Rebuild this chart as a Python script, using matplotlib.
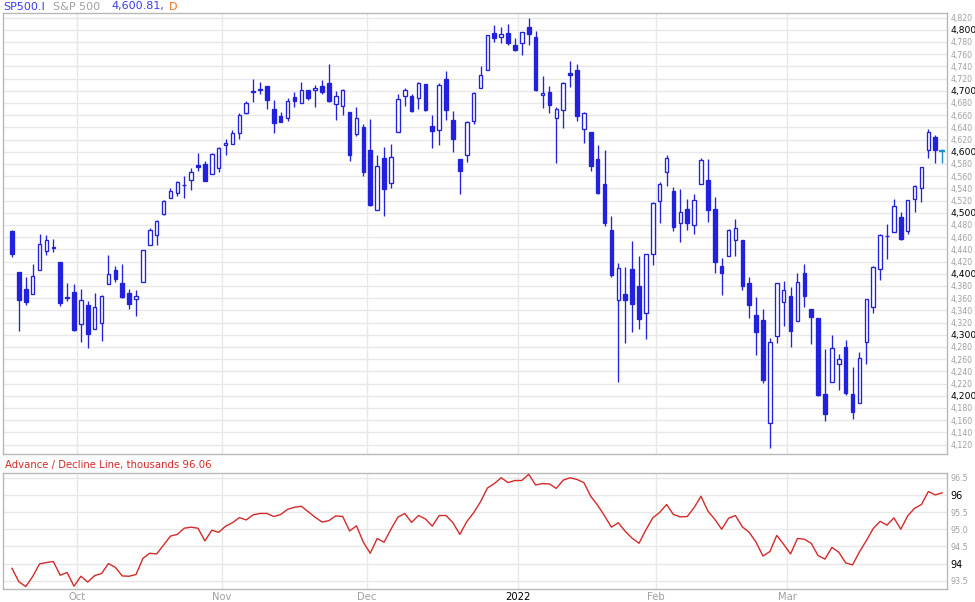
import numpy as np
import pandas as pd
import matplotlib
matplotlib.use("Agg")
import matplotlib.pyplot as plt

# ---------------- data ----------------
holidays = ["2021-11-25", "2021-12-24", "2022-01-17", "2022-02-21"]
dates = pd.bdate_range("2021-09-17", "2022-03-31")
dates = dates[~dates.isin(pd.to_datetime(holidays))]

opens = [4469.74, 4402.95, 4374.45, 4367.43, 4406.75, 4438.04, 4442.12, 4419.54, 4362.41, 4370.67,
         4317.16, 4348.84, 4309.87, 4319.57, 4383.73, 4406.51, 4385.44, 4368.31, 4358.01, 4386.75,
         4447.69, 4463.72, 4497.34, 4524.42, 4532.24, 4546.12, 4553.69, 4578.69, 4580.22, 4562.84,
         4572.87, 4610.62, 4613.34, 4630.65, 4662.93, 4699.26, 4701.48, 4707.25, 4670.26, 4659.39,
         4655.24, 4689.30, 4679.42, 4701.50, 4700.72, 4708.44, 4712.00, 4678.48, 4675.78, 4664.63,
         4628.75, 4640.25, 4602.82, 4504.73, 4589.49, 4548.37, 4631.97, 4690.86, 4691.00, 4687.64,
         4710.30, 4642.99, 4636.46, 4719.13, 4652.50, 4587.90, 4594.96, 4650.36, 4703.96, 4733.99,
         4795.49, 4788.64, 4794.23, 4775.21, 4778.14, 4804.51, 4787.99, 4693.39, 4697.66, 4655.34,
         4669.14, 4728.59, 4733.56, 4637.99, 4632.24, 4588.03, 4547.35, 4471.38, 4356.32, 4366.64,
         4408.43, 4380.58, 4336.19, 4431.79, 4519.57, 4566.39, 4535.41, 4482.79, 4505.75, 4480.02,
         4547.00, 4553.24, 4506.27, 4412.61, 4429.28, 4455.75, 4456.06, 4384.57, 4332.74, 4324.93,
         4155.77, 4298.38, 4354.17, 4363.14, 4322.56, 4401.31, 4342.12, 4327.01, 4202.66, 4223.10,
         4252.55, 4279.50, 4202.75, 4188.82, 4288.14, 4345.11, 4407.34, 4462.40, 4469.10, 4493.10,
         4469.98, 4522.66, 4541.09, 4602.86, 4624.00, 4599.02]
highs = [4471.52, 4402.95, 4394.87, 4416.75, 4465.40, 4463.12, 4457.30, 4419.54, 4385.57, 4382.55,
         4375.19, 4355.51, 4369.23, 4365.57, 4429.97, 4412.02, 4415.88, 4374.89, 4372.87, 4439.73,
         4475.82, 4488.75, 4520.40, 4540.87, 4551.44, 4559.67, 4572.62, 4598.53, 4584.57, 4597.55,
         4608.08, 4620.34, 4635.15, 4663.46, 4683.00, 4718.50, 4714.92, 4708.53, 4684.85, 4664.55,
         4688.47, 4697.42, 4714.95, 4701.50, 4708.80, 4717.75, 4743.83, 4699.39, 4702.87, 4664.63,
         4672.95, 4646.02, 4652.94, 4595.46, 4608.03, 4612.60, 4694.04, 4705.06, 4695.26, 4713.57,
         4710.30, 4660.47, 4712.60, 4731.99, 4666.70, 4587.90, 4651.14, 4697.67, 4740.74, 4791.49,
         4807.02, 4804.06, 4808.93, 4786.83, 4796.64, 4818.62, 4797.70, 4725.01, 4707.95, 4673.02,
         4714.13, 4748.83, 4744.13, 4665.13, 4632.24, 4611.55, 4602.11, 4494.52, 4417.35, 4411.01,
         4453.23, 4428.74, 4432.72, 4516.89, 4550.49, 4595.31, 4542.88, 4539.66, 4521.86, 4531.32,
         4590.03, 4588.92, 4526.33, 4426.22, 4472.77, 4489.55, 4456.06, 4394.60, 4362.12, 4341.51,
         4294.73, 4385.34, 4388.84, 4378.45, 4401.48, 4416.78, 4342.12, 4327.01, 4276.94, 4299.40,
         4268.28, 4291.01, 4247.57, 4271.05, 4357.86, 4412.67, 4465.40, 4481.75, 4522.00, 4501.07,
         4520.58, 4546.03, 4575.65, 4637.30, 4627.41, 4604.00]
lows = [4427.76, 4305.91, 4347.96, 4367.43, 4406.75, 4430.27, 4436.19, 4346.33, 4355.08, 4306.24,
        4288.52, 4278.94, 4309.87, 4290.49, 4383.73, 4386.22, 4360.59, 4342.09, 4329.92, 4386.75,
        4447.69, 4447.47, 4496.41, 4524.40, 4526.89, 4524.00, 4537.36, 4569.17, 4551.66, 4562.84,
        4567.59, 4595.06, 4613.34, 4621.19, 4662.59, 4681.32, 4694.39, 4670.87, 4630.86, 4648.31,
        4650.77, 4672.86, 4679.42, 4684.41, 4672.78, 4694.22, 4682.17, 4652.66, 4659.89, 4585.43,
        4625.26, 4560.00, 4510.27, 4504.73, 4495.12, 4540.51, 4631.97, 4674.52, 4665.98, 4670.24,
        4667.60, 4606.52, 4611.22, 4651.89, 4600.22, 4531.10, 4583.16, 4645.53, 4703.96, 4733.99,
        4780.04, 4778.08, 4775.33, 4765.75, 4758.17, 4774.27, 4699.44, 4671.26, 4662.74, 4582.24,
        4638.27, 4706.71, 4650.29, 4614.75, 4568.70, 4530.20, 4477.95, 4395.34, 4222.62, 4287.11,
        4304.80, 4309.50, 4292.46, 4414.02, 4483.53, 4544.32, 4470.39, 4451.50, 4471.47, 4465.40,
        4547.00, 4484.31, 4401.41, 4364.84, 4429.28, 4429.68, 4373.81, 4327.22, 4267.11, 4221.51,
        4114.65, 4286.83, 4315.12, 4279.54, 4322.56, 4345.56, 4284.98, 4199.85, 4157.87, 4223.10,
        4209.80, 4200.49, 4161.72, 4187.90, 4251.99, 4335.65, 4390.57, 4424.30, 4469.10, 4455.81,
        4465.17, 4501.07, 4517.69, 4589.66, 4581.32, 4581.50]
closes = [4432.99, 4357.73, 4354.19, 4395.64, 4448.98, 4455.48, 4443.11, 4352.63, 4359.46, 4307.54,
          4357.04, 4300.46, 4345.72, 4363.55, 4399.76, 4391.34, 4361.19, 4350.65, 4363.80, 4438.26,
          4471.37, 4486.46, 4519.63, 4536.19, 4549.78, 4544.90, 4566.48, 4574.79, 4551.68, 4596.42,
          4605.38, 4613.67, 4630.65, 4660.57, 4680.06, 4697.53, 4701.70, 4685.25, 4646.71, 4649.27,
          4682.85, 4682.80, 4700.90, 4688.67, 4704.54, 4697.96, 4682.94, 4690.70, 4701.46, 4594.62,
          4655.27, 4567.00, 4513.04, 4577.10, 4538.43, 4591.67, 4686.75, 4701.21, 4667.45, 4712.02,
          4668.97, 4634.09, 4709.85, 4668.67, 4620.64, 4568.02, 4649.23, 4696.56, 4725.79, 4791.19,
          4786.35, 4793.06, 4778.73, 4766.18, 4796.56, 4793.54, 4700.58, 4696.05, 4677.03, 4670.29,
          4713.07, 4726.35, 4659.03, 4662.85, 4577.11, 4532.76, 4482.73, 4397.94, 4410.13, 4356.45,
          4349.93, 4326.51, 4431.85, 4515.55, 4546.54, 4589.38, 4477.44, 4500.53, 4483.87, 4521.54,
          4587.18, 4504.08, 4418.64, 4401.67, 4471.07, 4475.01, 4380.26, 4348.87, 4304.76, 4225.50,
          4288.70, 4384.65, 4373.94, 4306.26, 4386.54, 4363.49, 4328.87, 4201.09, 4170.70, 4277.88,
          4259.52, 4204.31, 4173.11, 4262.45, 4357.86, 4411.67, 4463.12, 4461.18, 4511.61, 4456.24,
          4520.16, 4543.06, 4575.52, 4631.60, 4602.45, 4600.81]

ad_line = [93.86, 93.47, 93.33, 93.62, 93.99, 94.03, 94.06, 93.66, 93.74, 93.34,
           93.63, 93.46, 93.65, 93.71, 94.00, 93.89, 93.64, 93.63, 93.68, 94.15,
           94.30, 94.28, 94.54, 94.80, 94.85, 95.03, 95.06, 95.03, 94.66, 94.97,
           94.91, 95.09, 95.19, 95.34, 95.27, 95.42, 95.46, 95.46, 95.37, 95.43,
           95.58, 95.64, 95.67, 95.51, 95.35, 95.21, 95.25, 95.39, 95.37, 94.95,
           95.10, 94.62, 94.30, 94.73, 94.62, 95.00, 95.35, 95.46, 95.20, 95.40,
           95.30, 95.09, 95.40, 95.40, 95.19, 94.85, 95.22, 95.48, 95.80, 96.20,
           96.33, 96.50, 96.36, 96.42, 96.42, 96.60, 96.29, 96.33, 96.32, 96.19,
           96.43, 96.50, 96.45, 96.36, 95.96, 95.70, 95.39, 95.06, 95.19, 94.94,
           94.74, 94.59, 94.98, 95.33, 95.49, 95.72, 95.43, 95.36, 95.37, 95.63,
           95.96, 95.53, 95.29, 95.00, 95.32, 95.40, 95.07, 94.91, 94.62, 94.22,
           94.35, 94.82, 94.56, 94.28, 94.73, 94.71, 94.59, 94.23, 94.13, 94.47,
           94.33, 94.02, 93.96, 94.34, 94.67, 95.02, 95.23, 95.12, 95.33, 95.00,
           95.39, 95.61, 95.72, 96.10, 96.00, 96.06]

price_ticks = list(range(4120, 4821, 20))
ad_ticks = [93.5, 94, 94.5, 95, 95.5, 96, 96.5]
ad_tick_labels = ["93.5", "94", "94.5", "95.0", "95.5", "96", "96.5"]

# ---------------- style ----------------
BLUE = "#2121de"
CYAN = "#1a90cf"
RED = "#d42a2a"
GRID = "#e8e8e8"
SPINE = "#b8b8b8"
GRAY_TXT = "#a0a0a0"

W, H = 975, 602
fig = plt.figure(figsize=(W / 100, H / 100), dpi=100)
plt.rcParams['font.family'] = ['DejaVu Sans']

def rect(l, t, r, b):
    return [l / W, 1 - b / H, (r - l) / W, (b - t) / H]

ax = fig.add_axes(rect(3.3, 13.3, 947.3, 454.3))
ax2 = fig.add_axes(rect(3.3, 473.3, 947.3, 589.3))

o = np.array(opens); h = np.array(highs); l = np.array(lows); c = np.array(closes)
n = len(c)
x = np.arange(n)
last = n - 1
up = c >= o
body_lo = np.minimum(o, c)
body_h = np.maximum(np.abs(c - o), 0.6)

# wicks
ax.vlines(x[:last], l[:last], h[:last], color=BLUE, lw=0.95, zorder=2)
m_up = up.copy(); m_up[last] = False
m_dn = ~up; m_dn[last] = False
ax.bar(x[m_up], body_h[m_up], bottom=body_lo[m_up], width=0.52,
       facecolor="white", edgecolor=BLUE, linewidth=0.95, zorder=3)
ax.bar(x[m_dn], body_h[m_dn], bottom=body_lo[m_dn], width=0.52,
       facecolor=BLUE, edgecolor=BLUE, linewidth=0.95, zorder=3)
# last (intraday) candle
ax.vlines(x[last], l[last], h[last], color=CYAN, lw=1.0, zorder=3)
ax.hlines(c[last], x[last] - 0.4, x[last] + 0.4, color=CYAN, lw=1.6, zorder=3)

# month boundaries
month_starts = [i for i in range(1, n) if dates[i].month != dates[i - 1].month]
month_pos = [i - 0.5 for i in month_starts]
month_lab = [dates[i].strftime("%Y") if dates[i].month == 1 else dates[i].strftime("%b")
             for i in month_starts]

xlim = (-1.26, 135.75)
for a in (ax, ax2):
    a.set_xlim(*xlim)
    a.set_xticks(month_pos)
    a.grid(True, color=GRID, lw=1.0, zorder=0)
    a.set_axisbelow(True)
    for s in a.spines.values():
        s.set_color(SPINE)
        s.set_linewidth(1.0)
    a.yaxis.tick_right()
    a.tick_params(axis="both", length=0, pad=2)

ax.set_ylim(4104, 4827)
ax.set_yticks(price_ticks)
ax.set_yticklabels([f"{v:,}" for v in price_ticks])
for t, v in zip(ax.get_yticklabels(), price_ticks):
    if v % 100 == 0:
        t.set_color("black"); t.set_fontsize(6.6)
    else:
        t.set_color(GRAY_TXT); t.set_fontsize(5.6)
ax.set_xticklabels([])

ax2.plot(x, ad_line, color=RED, lw=1.0, zorder=3)
ax2.set_ylim(93.25, 96.63)
ax2.set_yticks(ad_ticks)
ax2.set_yticklabels(ad_tick_labels)
for t, lab in zip(ax2.get_yticklabels(), ad_tick_labels):
    if "." not in lab:
        t.set_color("black"); t.set_fontsize(7)
    else:
        t.set_color(GRAY_TXT); t.set_fontsize(5.8)
ax2.set_xticklabels(month_lab)
for t, lab in zip(ax2.get_xticklabels(), month_lab):
    t.set_fontsize(7.2)
    t.set_color("black" if lab.isdigit() else GRAY_TXT)

# header texts
yt = 1 - 6.5 / H
fig.text(3 / W, yt, "SP500.I", color="#3b3be6", fontsize=8, va="center")
fig.text(53 / W, yt, "S&P 500", color=GRAY_TXT, fontsize=8, va="center")
fig.text(111 / W, yt, f"{closes[-1]:,.2f},", color="#3b3be6", fontsize=8, va="center")
fig.text(169 / W, yt, "D", color="#f07020", fontsize=8, va="center")

fig.text(5 / W, 1 - 465 / H, f"Advance / Decline Line, thousands {ad_line[-1]:.2f}",
         color=RED, fontsize=7.3, va="center")

fig.savefig("out.png", dpi=100)
